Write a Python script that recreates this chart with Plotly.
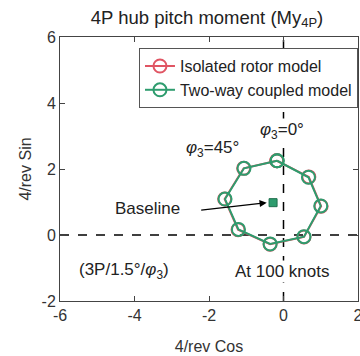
import plotly.graph_objects as go

# Data
phase_labels = ["0°", "-45°", "-90°", "-135°", "180°", "135°", "90°", "45°"]
coupled_cos = [-0.17, 0.67, 1.00, 0.55, -0.36, -1.21, -1.57, -1.06]
coupled_sin = [2.25, 1.75, 0.88, -0.05, -0.27, 0.17, 1.09, 2.02]
isolated_cos = [-0.18, 0.68, 1.01, 0.55, -0.36, -1.22, -1.58, -1.07]
isolated_sin = [2.25, 1.76, 0.87, -0.06, -0.28, 0.16, 1.09, 2.02]
baseline_cos = [-0.28]
baseline_sin = [0.98]
x_tickvals = [-6, -4, -2, 0, 2]
x_ticktext = ["-6", "-4", "-2", "0", "2"]
y_tickvals = [-2, 0, 2, 4, 6]
y_ticktext = ["-2", "0", "2", "4", "6"]

RED = "#E05563"
GREEN = "#2E9C6E"
FONT = "Liberation Sans, Arial, sans-serif"

fig = go.Figure()

# reference dashed lines
fig.add_trace(go.Scatter(x=[-6, 2], y=[0, 0], mode="lines",
                         line=dict(color="black", width=1.5, dash="dash"),
                         showlegend=False, hoverinfo="skip"))
fig.add_trace(go.Scatter(x=[0, 0], y=[-2, 6], mode="lines",
                         line=dict(color="black", width=1.5, dash="dash"),
                         showlegend=False, hoverinfo="skip"))

def closed(a):
    return list(a) + [a[0]]

fig.add_trace(go.Scatter(x=closed(isolated_cos), y=closed(isolated_sin),
                         mode="lines+markers", name="Isolated rotor model",
                         line=dict(color=RED, width=2),
                         marker=dict(symbol="circle-open", size=13,
                                     line=dict(color=RED, width=2))))
fig.add_trace(go.Scatter(x=closed(coupled_cos), y=closed(coupled_sin),
                         mode="lines+markers", name="Two-way coupled model",
                         line=dict(color=GREEN, width=2),
                         marker=dict(symbol="circle-open", size=13,
                                     line=dict(color=GREEN, width=2))))
fig.add_trace(go.Scatter(x=baseline_cos, y=baseline_sin, mode="markers",
                         marker=dict(symbol="square", size=8, color=GREEN,
                                     line=dict(color="#1f6e4c", width=1)),
                         showlegend=False))

ann_font = dict(family=FONT, size=17, color="#222")
annotations = [
    dict(x=-0.05, y=3.15, text="<i>φ</i><sub>3</sub>=0°", showarrow=False,
         xanchor="center", yanchor="middle", font=ann_font, bgcolor="white"),
    dict(x=-1.9, y=2.6, text="<i>φ</i><sub>3</sub>=45°", showarrow=False,
         xanchor="center", yanchor="middle", font=ann_font),
    dict(x=-3.65, y=0.8, text="Baseline", showarrow=False,
         xanchor="center", yanchor="middle", font=ann_font),
    dict(x=baseline_cos[0] - 0.17, y=baseline_sin[0], ax=-2.25, ay=0.75,
         axref="x", ayref="y", xref="x", yref="y", text="",
         showarrow=True, arrowhead=2, arrowsize=1.2, arrowwidth=1.2,
         arrowcolor="black"),
    dict(x=-4.27, y=-1.1, text="(3P/1.5°/<i>φ</i><sub>3</sub>)", showarrow=False,
         xanchor="center", yanchor="middle", font=ann_font),
    dict(x=-0.04, y=-1.1, text="At 100 knots", showarrow=False,
         xanchor="center", yanchor="middle", font=ann_font, bgcolor="white"),
]

axis_common = dict(showgrid=False, zeroline=False, showline=True,
                   linecolor="#444", linewidth=1, mirror="ticks",
                   ticks="inside", ticklen=5, tickcolor="#444",
                   automargin=False, ticklabeloverflow="allow",
                   tickfont=dict(family=FONT, size=16, color="#333"))

fig.update_layout(
    width=360, height=356,
    margin=dict(l=60, r=2, t=37, b=55),
    paper_bgcolor="white", plot_bgcolor="white",
    title=dict(text="4P hub pitch moment (My<sub>4P</sub>)", x=0.575,
               xanchor="center", y=0.952, yanchor="middle",
               font=dict(family=FONT, size=18.5, color="#222")),
    xaxis=dict(range=[-6, 2], tickvals=x_tickvals, ticktext=x_ticktext,
               title=dict(text="4/rev Cos", standoff=17,
                          font=dict(family=FONT, size=16, color="#333")),
               **axis_common),
    yaxis=dict(range=[-2, 6], tickvals=y_tickvals, ticktext=y_ticktext,
               title=dict(text="4/rev Sin", standoff=5,
                          font=dict(family=FONT, size=16, color="#333")),
               **axis_common),
    legend=dict(x=0.265, y=0.958, xanchor="left", yanchor="top",
                bgcolor="white", bordercolor="#555", borderwidth=1,
                itemwidth=30, tracegroupgap=0,
                font=dict(family=FONT, size=16, color="#222")),
    annotations=annotations,
    showlegend=True,
)

fig.write_html(
    "out.html",
    config={"displayModeBar": False},
    post_script="document.body.style.margin='0';"
                "document.body.style.overflow='hidden';",
)
